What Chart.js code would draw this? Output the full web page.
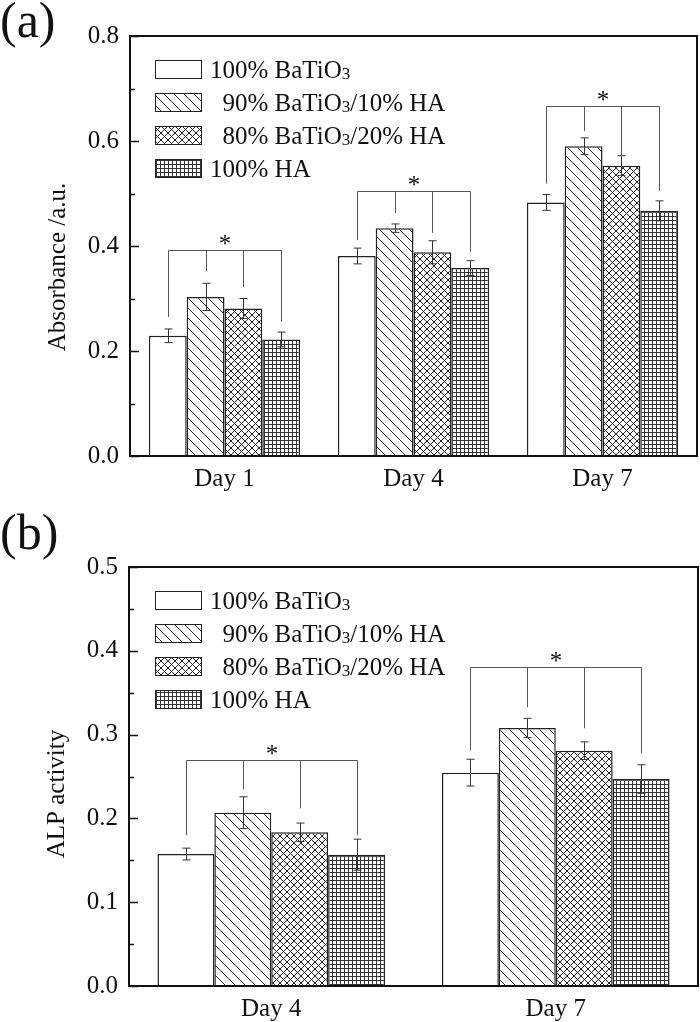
<!DOCTYPE html>
<html>
<head>
<meta charset="utf-8">
<script src="https://cdn.jsdelivr.net/npm/chart.js@4.4.1/dist/chart.umd.min.js"></script>
<style>
  body { margin: 0; background: #fff; }
  canvas { display: block; }
</style>
</head>
<body>
<canvas id="chartA" width="700" height="500"></canvas>
<canvas id="chartB" width="700" height="522"></canvas>
<script>
// --- Data ---
const seriesNames = ['100% BaTiO₃', '  90% BaTiO₃/10% HA', '  80% BaTiO₃/20% HA', '100% HA'];

// (a) absorbance
const daysA = ['Day 1', 'Day 4', 'Day 7'];
const yTicksA = [0, 0.2, 0.4, 0.6, 0.8];
const bt100A = [0.229, 0.381, 0.483];
const bt90A  = [0.303, 0.434, 0.590];
const bt80A  = [0.281, 0.388, 0.553];
const ha100A = [0.222, 0.358, 0.467];
const errBt100A = [0.013, 0.015, 0.015];
const errBt90A  = [0.026, 0.008, 0.016];
const errBt80A  = [0.019, 0.022, 0.019];
const errHa100A = [0.014, 0.014, 0.019];
const bracketA = [0.392, 0.504, 0.667];       // level of the "*" bracket
const legBt100A = [0.265, 0.411, 0.519];      // where each bracket leg stops
const legBt90A  = [0.352, 0.463, 0.619];
const legBt80A  = [0.322, 0.425, 0.570];
const legHa100A = [0.256, 0.389, 0.505];

// (b) ALP activity
const daysB = ['Day 4', 'Day 7'];
const yTicksB = [0, 0.1, 0.2, 0.3, 0.4, 0.5];
const bt100B = [0.1575, 0.2546];
const bt90B  = [0.2068, 0.3079];
const bt80B  = [0.1834, 0.2808];
const ha100B = [0.1567, 0.2470];
const errBt100B = [0.007, 0.016];
const errBt90B  = [0.019, 0.0115];
const errBt80B  = [0.011, 0.0105];
const errHa100B = [0.0185, 0.017];
const bracketB = [0.270, 0.381];
const legBt100B = [0.180, 0.2816];
const legBt90B  = [0.2347, 0.3326];
const legBt80B  = [0.212, 0.3075];
const legHa100B = [0.180, 0.2777];

const FONT = "'Liberation Serif', 'Times New Roman', serif";
const INK = '#111';

// --- fill patterns ---
function makePattern(kind) {
  const s = kind === 'diag' ? 10 : kind === 'cross' ? 7 : kind === 'grid' ? 4 : 1;
  const c = document.createElement('canvas');
  c.width = s; c.height = s;
  const g = c.getContext('2d');
  g.fillStyle = '#fff';
  g.fillRect(0, 0, s, s);
  g.strokeStyle = '#222';
  g.fillStyle = '#333';
  g.lineWidth = 1;
  if (kind === 'diag' || kind === 'cross') {
    g.beginPath();
    g.moveTo(-1, -1); g.lineTo(s + 1, s + 1);
    g.moveTo(-1, s - 1); g.lineTo(1, s + 1);
    g.moveTo(s - 1, -1); g.lineTo(s + 1, 1);
    if (kind === 'cross') {
      g.moveTo(-1, s + 1); g.lineTo(s + 1, -1);
      g.moveTo(-1, 1); g.lineTo(1, -1);
      g.moveTo(s - 1, s + 1); g.lineTo(s + 1, s - 1);
    }
    g.stroke();
  } else if (kind === 'grid') {
    g.fillRect(0, 0, s, 1);
    g.fillRect(0, 0, 1, s);
  }
  return g.createPattern(c, 'repeat');
}
const fills = ['plain', 'diag', 'cross', 'grid'].map(makePattern);

// per-chart extras for the drawing plugin
const extras = {
  chartA: {
    panel: '(a)', panelY: 37, yTitle: 'Absorbance /a.u.', yTitlePos: [58, 267],
    yTicks: yTicksA,
    errors: [errBt100A, errBt90A, errBt80A, errHa100A],
    bracket: bracketA,
    legs: [legBt100A, legBt90A, legBt80A, legHa100A]
  },
  chartB: {
    panel: '(b)', panelY: 49, yTitle: 'ALP activity', yTitlePos: [57, 294],
    yTicks: yTicksB,
    errors: [errBt100B, errBt90B, errBt80B, errHa100B],
    bracket: bracketB,
    legs: [legBt100B, legBt90B, legBt80B, legHa100B]
  }
};

// text with a subscript "3"
function drawRich(ctx, text, x, baseline) {
  const parts = text.split('₃');
  parts.forEach((p, k) => {
    ctx.font = '25px ' + FONT;
    ctx.fillText(p, x, baseline);
    x += ctx.measureText(p).width;
    if (k < parts.length - 1) {
      ctx.font = '17px ' + FONT;
      ctx.fillText('3', x, baseline + 1);
      x += ctx.measureText('3').width;
    }
  });
}

const decor = {
  id: 'decor',
  afterDatasetsDraw(chart) {
    const ex = extras[chart.canvas.id];
    const ctx = chart.ctx;
    const y = chart.scales.y;
    const n = chart.data.datasets.length;
    ctx.save();
    // error bars
    ctx.strokeStyle = '#333';
    ctx.lineWidth = 1;
    chart.data.datasets.forEach((ds, i) => {
      chart.getDatasetMeta(i).data.forEach((bar, j) => {
        const v = ds.data[j], e = ex.errors[i][j];
        const x = Math.round(bar.x) + 0.5;
        const y1 = y.getPixelForValue(v + e), y2 = y.getPixelForValue(v - e);
        ctx.beginPath();
        ctx.moveTo(x, y1); ctx.lineTo(x, y2);
        ctx.moveTo(x - 4, y1); ctx.lineTo(x + 4, y1);
        ctx.moveTo(x - 4, y2); ctx.lineTo(x + 4, y2);
        ctx.stroke();
      });
    });
    // significance brackets
    ctx.strokeStyle = '#555';
    ex.bracket.forEach((level, j) => {
      const xs = [];
      for (let i = 0; i < n; i++) xs.push(Math.round(chart.getDatasetMeta(i).data[j].x) + 0.5);
      const yb = Math.round(y.getPixelForValue(level)) + 0.5;
      ctx.beginPath();
      ctx.moveTo(xs[0], yb); ctx.lineTo(xs[n - 1], yb);
      xs.forEach((x, i) => {
        ctx.moveTo(x, yb);
        ctx.lineTo(x, y.getPixelForValue(ex.legs[i][j]));
      });
      ctx.stroke();
      ctx.fillStyle = INK;
      ctx.font = '25px ' + FONT;
      ctx.textAlign = 'center';
      ctx.textBaseline = 'alphabetic';
      const m = ctx.measureText('*');
      const off = (m.actualBoundingBoxAscent - m.actualBoundingBoxDescent) / 2;
      ctx.fillText('*', (xs[0] + xs[n - 1]) / 2, yb - 11 + off);
    });
    ctx.restore();
  },
  afterDraw(chart) {
    const ex = extras[chart.canvas.id];
    const ctx = chart.ctx;
    const a = chart.chartArea;
    const y = chart.scales.y;
    ctx.save();
    // frame
    ctx.strokeStyle = INK;
    ctx.lineWidth = 2;
    ctx.strokeRect(a.left, a.top, a.right - a.left, a.bottom - a.top);
    // inward ticks, major and minor
    ctx.lineWidth = 1.5;
    ctx.beginPath();
    ex.yTicks.forEach((v, k) => {
      const py = Math.round(y.getPixelForValue(v)) + 0.5;
      ctx.moveTo(a.left, py); ctx.lineTo(a.left + 9, py);
      if (k < ex.yTicks.length - 1) {
        const my = Math.round(y.getPixelForValue((v + ex.yTicks[k + 1]) / 2)) + 0.5;
        ctx.moveTo(a.left, my); ctx.lineTo(a.left + 5, my);
      }
    });
    ctx.stroke();
    // legend
    ctx.fillStyle = INK;
    ctx.textAlign = 'left';
    ctx.textBaseline = 'alphabetic';
    chart.data.datasets.forEach((ds, i) => {
      const cy = a.top + 33 + i * 33;
      ctx.fillStyle = ds.backgroundColor;
      ctx.fillRect(155, cy - 9, 46, 18);
      ctx.strokeStyle = '#222';
      ctx.lineWidth = 1;
      ctx.strokeRect(155.5, cy - 8.5, 46, 18);
      ctx.fillStyle = INK;
      drawRich(ctx, ds.label, 210, cy + 8.5);
    });
    // axis title
    ctx.font = '25px ' + FONT;
    ctx.textAlign = 'center';
    ctx.textBaseline = 'middle';
    ctx.translate(ex.yTitlePos[0], ex.yTitlePos[1]);
    ctx.rotate(-Math.PI / 2);
    ctx.fillText(ex.yTitle, 0, 0);
    ctx.setTransform(1, 0, 0, 1, 0, 0);
    // panel label
    ctx.font = '50px ' + FONT;
    ctx.textAlign = 'left';
    ctx.textBaseline = 'alphabetic';
    ctx.fillText(ex.panel, 0, ex.panelY);
    ctx.restore();
  }
};

function buildChart(id, days, values, yTicks, pad, yWidth, xHeight) {
  return new Chart(document.getElementById(id), {
    type: 'bar',
    data: {
      labels: days,
      datasets: values.map((d, i) => ({
        label: seriesNames[i],
        data: d,
        backgroundColor: fills[i],
        borderColor: '#222',
        borderWidth: 1.5,
        categoryPercentage: 0.8,
        barPercentage: 1.0
      }))
    },
    options: {
      responsive: false,
      animation: false,
      devicePixelRatio: 1,
      layout: { padding: pad },
      plugins: { legend: { display: false }, tooltip: { enabled: false } },
      scales: {
        x: {
          grid: { display: false, drawTicks: false },
          border: { display: false },
          ticks: { color: INK, font: { family: FONT, size: 25 }, padding: 8 },
          afterFit: s => { s.height = xHeight; }
        },
        y: {
          min: yTicks[0],
          max: yTicks[yTicks.length - 1],
          grid: { display: false, drawTicks: false },
          border: { display: false },
          afterBuildTicks: s => { s.ticks = yTicks.map(v => ({ value: v })); },
          ticks: {
            color: INK, font: { family: FONT, size: 25 }, padding: 11,
            callback: v => v.toFixed(1)
          },
          afterFit: s => { s.width = yWidth; }
        }
      }
    },
    plugins: [decor]
  });
}

buildChart('chartA', daysA, [bt100A, bt90A, bt80A, ha100A], yTicksA,
  { top: 36, right: 3, left: 0, bottom: 0 }, 130, 44);
buildChart('chartB', daysB, [bt100B, bt90B, bt80B, ha100B], yTicksB,
  { top: 67, right: 2, left: 0, bottom: 0 }, 129, 36);
</script>
</body>
</html>
